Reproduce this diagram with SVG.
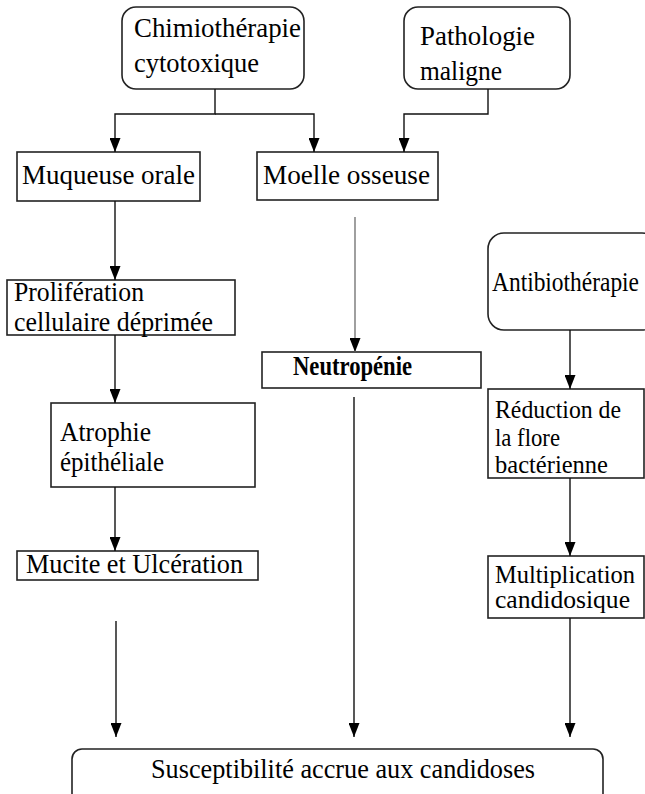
<svg xmlns="http://www.w3.org/2000/svg" width="645" height="794" viewBox="0 0 645 794">
<style>
  .box{fill:#fff;stroke:#222;stroke-width:1.6}
  .t{font-family:"Liberation Serif","Times New Roman","DejaVu Serif",serif;font-size:28px;fill:#000}
  .s{font-size:25px}
  .c{fill:none;stroke:#111;stroke-width:1.4}
  .g{stroke:#777}
</style>
<defs>
  <marker id="ah" viewBox="0 0 14 11" refX="14" refY="5.5" markerWidth="14" markerHeight="11" markerUnits="userSpaceOnUse" orient="auto">
    <path d="M0,0 L14,5.5 L0,11 z" fill="#000"/>
  </marker>
</defs>
<rect width="645" height="794" fill="#fff"/>

<g id="chimio">
  <rect class="box" x="122" y="7" width="182" height="82" rx="14"/>
  <text class="t" x="134" y="37" textLength="167" lengthAdjust="spacingAndGlyphs">Chimiothérapie</text>
  <text class="t" x="134" y="72" textLength="125" lengthAdjust="spacingAndGlyphs">cytotoxique</text>
</g>
<g id="pathologie">
  <rect class="box" x="404" y="7" width="166" height="82" rx="14"/>
  <text class="t" x="420" y="45" textLength="115" lengthAdjust="spacingAndGlyphs">Pathologie</text>
  <text class="t" x="420" y="80" textLength="82" lengthAdjust="spacingAndGlyphs">maligne</text>
</g>
<g id="muqueuse">
  <rect class="box" x="17" y="152" width="183" height="49"/>
  <text class="t" x="22" y="184" textLength="173" lengthAdjust="spacingAndGlyphs">Muqueuse orale</text>
</g>
<g id="moelle">
  <rect class="box" x="257" y="152" width="181" height="48"/>
  <text class="t" x="263" y="184" textLength="167" lengthAdjust="spacingAndGlyphs">Moelle osseuse</text>
</g>
<g id="proliferation">
  <rect class="box" x="7" y="280" width="228" height="55"/>
  <text class="t" x="14" y="301" textLength="130" lengthAdjust="spacingAndGlyphs">Prolifération</text>
  <text class="t" x="14" y="331" textLength="199" lengthAdjust="spacingAndGlyphs">cellulaire déprimée</text>
</g>
<g id="neutropenie">
  <rect class="box" x="262" y="352" width="219" height="36"/>
  <text class="t" x="293" y="375" font-size="21" font-weight="bold" textLength="119" lengthAdjust="spacingAndGlyphs">Neutropénie</text>
</g>
<g id="antibiotherapie">
  <rect class="box" x="488" y="233" width="170" height="97" rx="16"/>
  <text class="t" x="492" y="291" font-size="24" textLength="147" lengthAdjust="spacingAndGlyphs">Antibiothérapie</text>
</g>
<g id="atrophie">
  <rect class="box" x="51" y="403" width="204" height="84"/>
  <text class="t" x="60" y="441" textLength="91" lengthAdjust="spacingAndGlyphs">Atrophie</text>
  <text class="t" x="60" y="471" textLength="104" lengthAdjust="spacingAndGlyphs">épithéliale</text>
</g>
<g id="mucite">
  <rect class="box" x="17" y="551" width="241" height="29"/>
  <text class="t" x="26" y="573" textLength="217" lengthAdjust="spacingAndGlyphs">Mucite et Ulcération</text>
</g>
<g id="reduction">
  <rect class="box" x="488" y="389" width="156" height="89"/>
  <text class="t s" x="495" y="418" textLength="126" lengthAdjust="spacingAndGlyphs">Réduction de</text>
  <text class="t s" x="495" y="446" textLength="65" lengthAdjust="spacingAndGlyphs">la flore</text>
  <text class="t s" x="495" y="473" textLength="113" lengthAdjust="spacingAndGlyphs">bactérienne</text>
</g>
<g id="multiplication">
  <rect class="box" x="488" y="556" width="156" height="62"/>
  <text class="t s" x="495" y="583" textLength="140" lengthAdjust="spacingAndGlyphs">Multiplication</text>
  <text class="t s" x="495" y="608" textLength="135" lengthAdjust="spacingAndGlyphs">candidosique</text>
</g>
<g id="susceptibilite">
  <rect class="box" x="72" y="749" width="531" height="60" rx="10"/>
  <text class="t" x="151" y="778" textLength="384" lengthAdjust="spacingAndGlyphs">Susceptibilité accrue aux candidoses</text>
</g>

<g id="connectors">
  <path class="c" d="M215,89 V114 H115 V152" marker-end="url(#ah)"/>
  <path class="c" d="M215,114 H314 V152" marker-end="url(#ah)"/>
  <path class="c" d="M488,89 V114 H404 V152" marker-end="url(#ah)"/>
  <path class="c" d="M115,201 V280" marker-end="url(#ah)"/>
  <path class="c" d="M115,335 V403" marker-end="url(#ah)"/>
  <path class="c" d="M115,487 V551" marker-end="url(#ah)"/>
  <path class="c" d="M116,621 V737" marker-end="url(#ah)"/>
  <path class="c g" d="M355,217 V352" marker-end="url(#ah)"/>
  <path class="c" d="M354,397 V737" marker-end="url(#ah)"/>
  <path class="c" d="M570,330 V389" marker-end="url(#ah)"/>
  <path class="c" d="M570,478 V556" marker-end="url(#ah)"/>
  <path class="c" d="M570,618 V737" marker-end="url(#ah)"/>
</g>
</svg>
